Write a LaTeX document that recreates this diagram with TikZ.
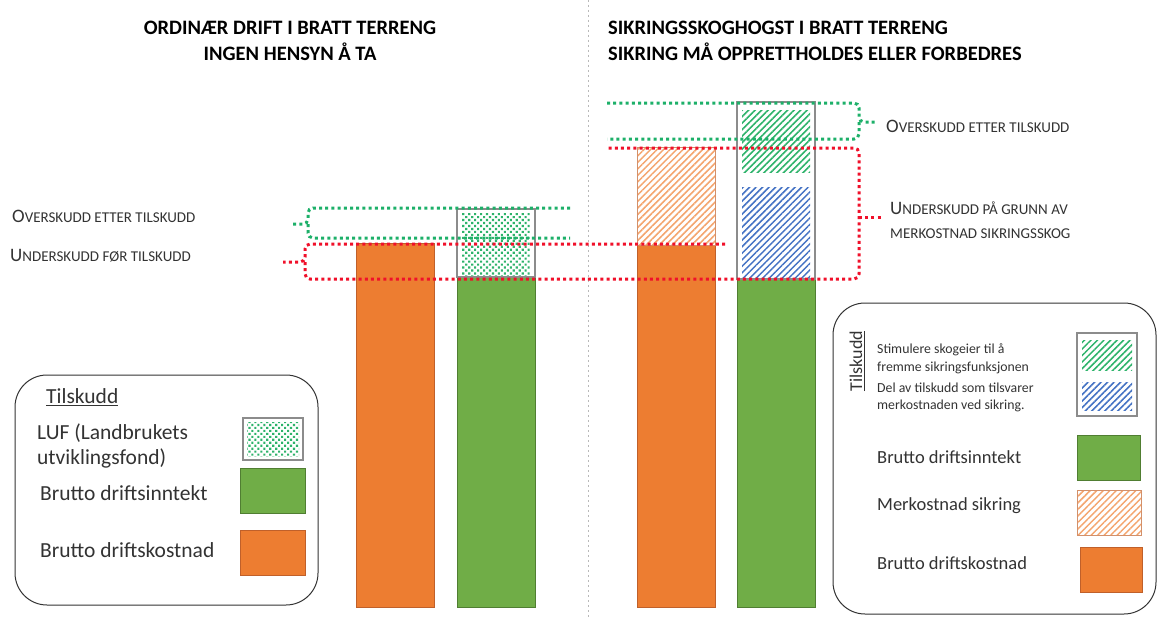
\documentclass[tikz,border=0pt]{standalone}
\usepackage{fontspec}
\setmainfont{Carlito}
\usetikzlibrary{patterns.meta}
\definecolor{org}{HTML}{ED7D31}
\definecolor{orgb}{HTML}{C0602A}
\definecolor{grn}{HTML}{70AD47}
\definecolor{grnb}{HTML}{507E32}
\definecolor{gdotc}{HTML}{1DB069}
\definecolor{rdotc}{HTML}{F0102A}
\definecolor{hgrn}{HTML}{2DB36A}
\definecolor{hblu}{HTML}{4472C4}
\definecolor{horg}{HTML}{F4A56E}
\definecolor{boxg}{HTML}{8C8C8C}
\definecolor{txt}{HTML}{333333}
\newcommand\capsA[2]{{\fontsize{19}{22}\selectfont #1}{\fontsize{15}{18}\selectfont #2}}
\newcommand\capsB[1]{{\fontsize{15}{18}\selectfont #1}}
\tikzset{
  x=1pt, y=-1pt,
  gdot/.style={gdotc, line width=3pt, dash pattern=on 3pt off 3.2pt},
  rdot/.style={rdotc, line width=3pt, dash pattern=on 3pt off 3.2pt},
  obar/.style={fill=org, draw=orgb, line width=0.6pt},
  gbar/.style={fill=grn, draw=grnb, line width=0.6pt},
  graybox/.style={draw=boxg, line width=1.2pt},
  dots/.style={pattern={Dots[radius=1.5pt, distance=4.2pt, angle=45]}, pattern color=hgrn},
  ghatch/.style={pattern={Lines[angle=45, distance=4.6pt, line width=1.5pt]}, pattern color=hgrn},
  bhatch/.style={pattern={Lines[angle=45, distance=4.6pt, line width=1.5pt]}, pattern color=hblu},
  ohatch/.style={pattern={Lines[angle=45, distance=4.6pt, line width=1.5pt]}, pattern color=horg},
  lbl/.style={anchor=west, inner sep=0pt, text=txt},
  ttl/.style={inner sep=0pt, text=black, font=\fontsize{20.5}{24}\selectfont\bfseries},
  legbox/.style={draw=txt, line width=1pt, rounded corners=32pt},
  legtxt/.style={anchor=west, inner sep=0pt, text=txt, font=\fontsize{21.5}{25}\selectfont},
  legtxts/.style={anchor=west, inner sep=0pt, text=txt, font=\fontsize{18.5}{22}\selectfont},
  legtxtt/.style={anchor=west, inner sep=0pt, text=txt, font=\fontsize{13.8}{16}\selectfont},
}
\begin{document}
\begin{tikzpicture}
\useasboundingbox[fill=white] (0,0) rectangle (1158,618);
% divider
\draw[gray!55, line width=0.8pt, dash pattern=on 2pt off 3pt] (588,0) -- (588,618);
% titles
\node[ttl, anchor=center] (t1a) at (290,28) {ORDINÆR DRIFT I BRATT TERRENG};
\node[ttl, anchor=center] (t1b) at (290,52) {INGEN HENSYN Å TA};
\node[ttl, anchor=west] (t2a) at (608,28) {SIKRINGSSKOGHOGST I BRATT TERRENG};
\node[ttl, anchor=west] (t2b) at (608,52) {SIKRING MÅ OPPRETTHOLDES ELLER FORBEDRES};
% left bars
\draw[obar] (356,243) rectangle (434,607);
\draw[gbar] (457,277) rectangle (535,607);
\fill[dots] (462,213) rectangle (530,275);
\draw[graybox] (457,209) rectangle (535,277);
% right bars
\draw[obar] (637,245) rectangle (715,607);
\fill[ohatch] (637,147) rectangle (715,245);
\draw[draw=orgb!70, line width=0.8pt] (637,147) rectangle (715,245);
\draw[gbar] (737,279) rectangle (815,607);
\fill[ghatch] (742,110) rectangle (810,172);
\fill[bhatch] (742,187) rectangle (810,277);
\draw[graybox] (737,102) rectangle (815,279);
% left brackets
\draw[gdot, rounded corners=5pt] (570,208) -| (308,224) -- (293,224);
\draw[gdot, rounded corners=5pt] (308,224) |- (570,238);
\draw[rdot, rounded corners=5pt] (725,244) -| (305,262) -- (283,262);
\draw[rdot, rounded corners=5pt] (305,262) |- (859,279) |- (607,148);
\draw[rdot] (859,217) -- (882,217);
% right green bracket
\draw[gdot, rounded corners=5pt] (607,103) -| (859,122) -- (877,122);
\draw[gdot, rounded corners=5pt] (859,122) |- (607,139);
% labels
\node[lbl] (l1) at (12,216) {\capsA{O}{VERSKUDD ETTER TILSKUDD}};
\node[lbl] (l2) at (10,256) {\capsA{U}{NDERSKUDD FØR TILSKUDD}};
\node[lbl] (r1) at (886,126) {\capsA{O}{VERSKUDD ETTER TILSKUDD}};
\node[lbl] (r2) at (890,208) {\capsA{U}{NDERSKUDD PÅ GRUNN AV}};
\node[lbl] (r3) at (890,234) {\capsB{MERKOSTNAD SIKRINGSSKOG}};
% left legend
\draw[legbox] (15,375) rectangle (318,605);
\node[legtxt] (lt) at (46,397) {\underline{Tilskudd}};
\node[legtxt] (lluf1) at (37,433) {LUF (Landbrukets};
\node[legtxt] (lluf2) at (37,458) {utviklingsfond)};
\fill[dots] (247,422) rectangle (299,456);
\draw[graybox] (243,418) rectangle (303,460);
\draw[gbar] (240,468) rectangle (305,513);
\node[legtxt] (lbi) at (40,493) {Brutto driftsinntekt};
\draw[obar] (240,530) rectangle (305,575);
\node[legtxt] (lbk) at (40,550) {Brutto driftskostnad};
% right legend
\draw[legbox] (833,303) rectangle (1156,614);
\node[inner sep=0pt, rotate=90, text=txt, font=\fontsize{18}{21}\selectfont] (rt) at (857,361) {\underline{Tilskudd}};
\node[legtxtt] (rs1) at (877,350) {Stimulere skogeier til å};
\node[legtxtt] (rs2) at (877,368) {fremme sikringsfunksjonen};
\node[legtxtt] (rs3) at (877,388) {Del av tilskudd som tilsvarer};
\node[legtxtt] (rs4) at (877,406) {merkostnaden ved sikring.};
\fill[ghatch] (1082,340) rectangle (1132,370);
\fill[bhatch] (1082,382) rectangle (1132,410);
\draw[graybox] (1077,333) rectangle (1137,416);
\draw[gbar] (1077,435) rectangle (1140,480);
\node[legtxts] (rbi) at (877,457) {Brutto driftsinntekt};
\fill[ohatch] (1077,490) rectangle (1141,535);
\draw[draw=orgb!70, line width=0.8pt] (1077,490) rectangle (1141,535);
\node[legtxts] (rmk) at (877,506) {Merkostnad sikring};
\draw[obar] (1080,547) rectangle (1142,592);
\node[legtxts] (rbk) at (877,563) {Brutto driftskostnad};
\end{tikzpicture}
\end{document}
